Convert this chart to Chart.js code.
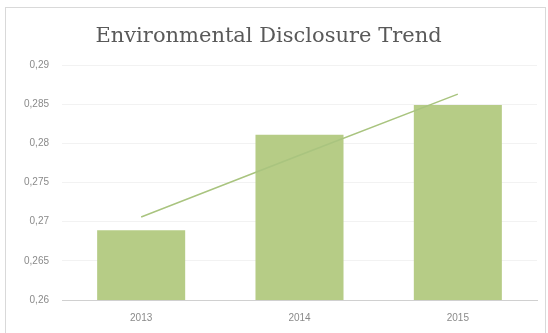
<!DOCTYPE html>
<html>
<head>
<meta charset="utf-8">
<script src="https://cdn.jsdelivr.net/npm/chart.js@4"></script>
<style>
  html, body { margin: 0; padding: 0; background: #ffffff; }
  #wrap { position: relative; width: 548px; height: 333px; }
  #frame { position: absolute; left: 5px; top: 7px; width: 541px; height: 330px; border: 1px solid #d9d9d9; box-sizing: border-box; }
  canvas { position: absolute; left: 0; top: 0; }
</style>
</head>
<body>
<div id="wrap">
  <div id="frame"></div>
  <canvas id="trendChart" width="548" height="333"></canvas>
</div>
<script>
// Data
const years = ['2013', '2014', '2015'];
const disclosure = [0.2689, 0.2811, 0.2849];
const trend = [0.2706, 0.2785, 0.2863];
const yTicks = [0.26, 0.265, 0.27, 0.275, 0.28, 0.285, 0.29];

new Chart(document.getElementById('trendChart'), {
    type: 'bar',
    data: {
        labels: years,
        datasets: [{
            type: 'line',
            label: 'Trend',
            data: trend,
            borderColor: '#a9c47f',
            borderWidth: 1.5,
            pointRadius: 0,
            fill: false,
            tension: 0,
            order: 0
        }, {
            label: 'Environmental Disclosure',
            data: disclosure,
            backgroundColor: '#b6cc86',
            borderWidth: 0,
            categoryPercentage: 1,
            barPercentage: 0.556,
            order: 1
        }]
    },
    options: {
        responsive: false,
        animation: false,
        layout: { padding: { left: 0, right: 11, top: 0, bottom: 0 } },
        plugins: {
            legend: { display: false },
            tooltip: { enabled: false },
            title: {
                display: true,
                text: 'Environmental Disclosure Trend',
                color: '#595959',
                font: { family: 'DejaVu Serif', size: 21, weight: 'normal' },
                padding: { top: 24, bottom: 16 }
            }
        },
        scales: {
            x: {
                afterFit: function(scale) { scale.height = 33; },
                grid: { display: false, drawTicks: false },
                border: { display: true, color: '#d0d0d0', width: 1 },
                ticks: {
                    color: '#8a8a8a',
                    padding: 12,
                    font: { family: 'Liberation Sans', size: 10 }
                }
            },
            y: {
                min: 0.26,
                max: 0.29,
                afterFit: function(scale) { scale.width = 62; },
                afterBuildTicks: function(scale) {
                    scale.ticks = yTicks.map(v => ({ value: v }));
                },
                grid: { color: '#f2f2f2', drawTicks: false },
                border: { display: false },
                ticks: {
                    color: '#8a8a8a',
                    padding: 13,
                    font: { family: 'Liberation Sans', size: 10 },
                    callback: function(v) { return String(+v.toFixed(3)).replace('.', ','); }
                }
            }
        }
    }
});
</script>
</body>
</html>
